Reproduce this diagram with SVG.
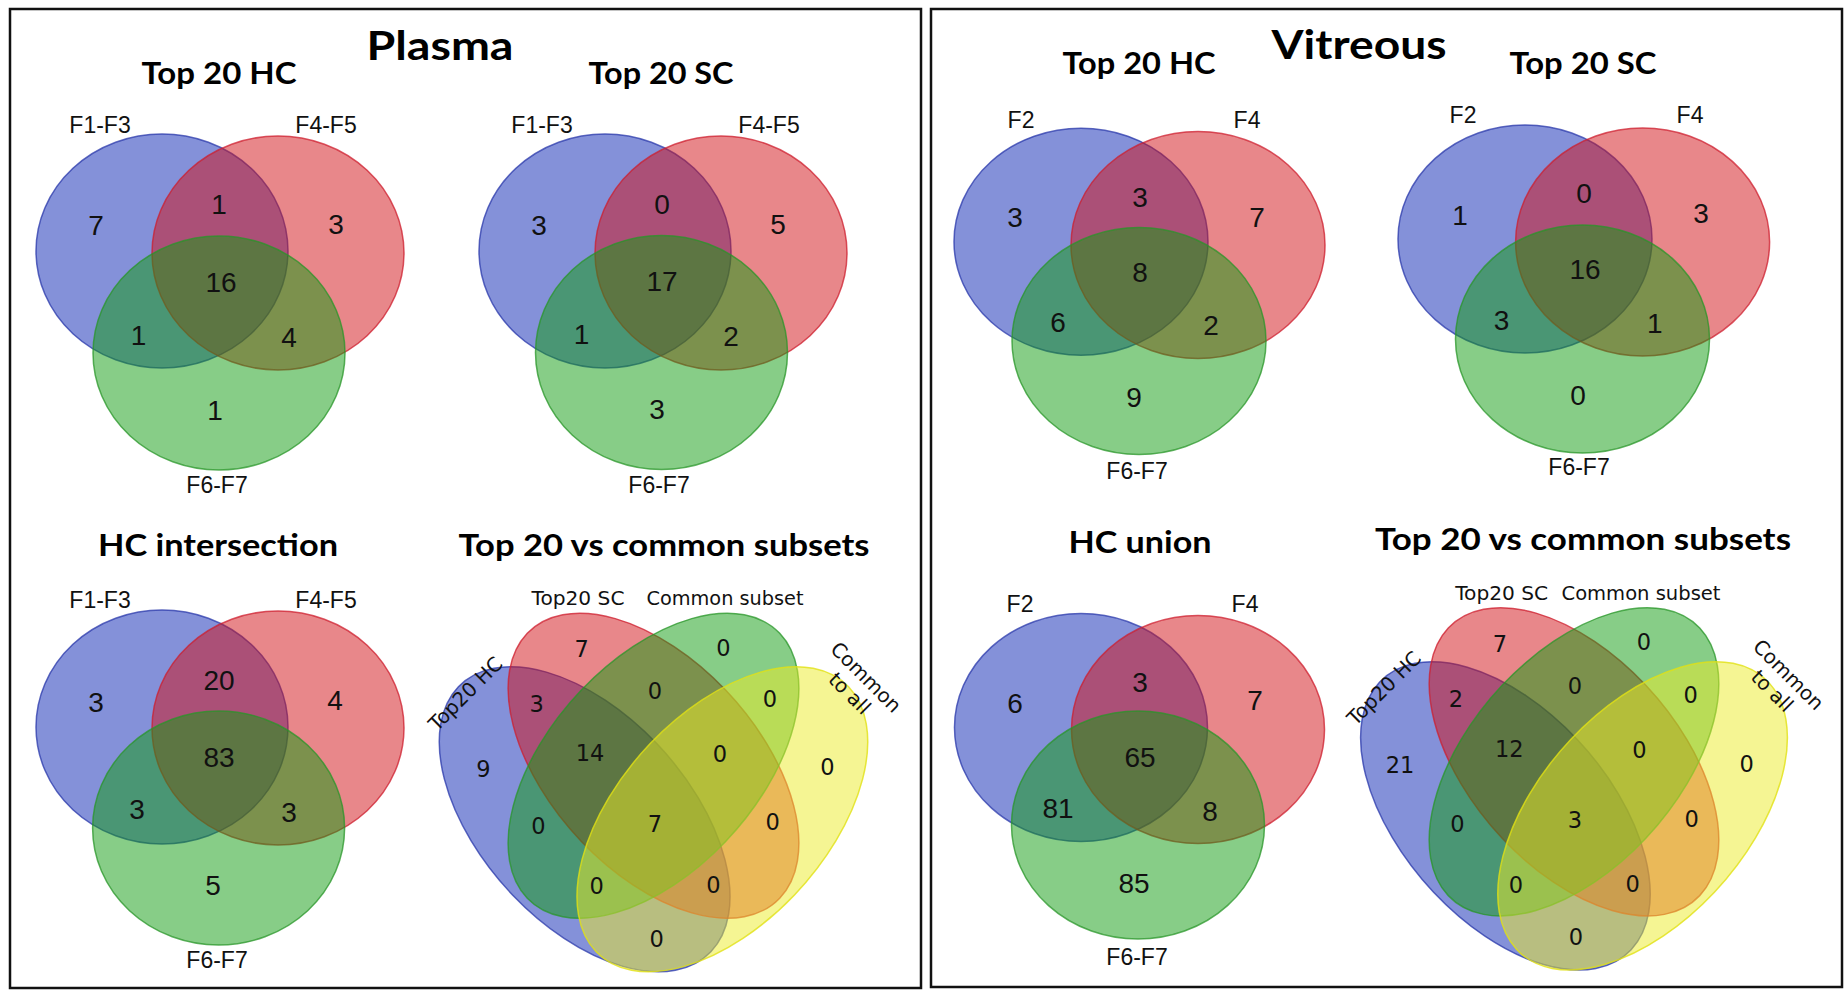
<svg xmlns="http://www.w3.org/2000/svg" width="1848" height="995" viewBox="0 0 1848 995">
<style>
.frame{fill:none;stroke:#111;stroke-width:2.5}
.b{fill:rgb(10,35,180);fill-opacity:.5;stroke:rgb(40,55,170);stroke-opacity:.75;stroke-width:1.5}
.r{fill:rgb(210,15,22);fill-opacity:.5;stroke:rgb(205,30,45);stroke-opacity:.75;stroke-width:1.5}
.g{fill:rgb(15,155,15);fill-opacity:.5;stroke:rgb(40,150,40);stroke-opacity:.75;stroke-width:1.5}
.y{fill:rgb(235,235,40);fill-opacity:.5;stroke:rgb(225,225,20);stroke-opacity:.8;stroke-width:1.5}
.q ellipse{vector-effect:non-scaling-stroke}
.t1{font-family:Lato,"Liberation Sans",sans-serif;font-weight:700;font-size:41px;text-anchor:middle;fill:#000}
.t2{font-family:Lato,"Liberation Sans",sans-serif;font-weight:700;font-size:31px;text-anchor:middle;fill:#000}
.lb{font-family:"Liberation Sans",Arial,sans-serif;font-size:23px;text-anchor:middle;fill:#111}
.n{font-family:"Liberation Sans",Arial,sans-serif;font-size:28px;text-anchor:middle;fill:#111}
.ql{font-family:"DejaVu Sans",Verdana,sans-serif;font-size:20px;text-anchor:middle;fill:#111}
.qn{font-family:"DejaVu Sans",Verdana,sans-serif;font-size:22.5px;text-anchor:middle;fill:#111}
</style>

<g id="plasma-panel">
<rect class="frame" x="10" y="9" width="911" height="979"/>
<text class="t1" x="440" y="60" textLength="147" lengthAdjust="spacingAndGlyphs">Plasma</text>
</g>
<g id="vitreous-panel">
<rect class="frame" x="931" y="9" width="911" height="978"/>
<text class="t1" x="1359" y="59" textLength="175" lengthAdjust="spacingAndGlyphs">Vitreous</text>
</g>

<!-- Plasma Top 20 HC -->
<g id="plasma-top20-hc">
<text class="t2" x="219" y="83.5" textLength="155" lengthAdjust="spacingAndGlyphs">Top 20 HC</text>
<ellipse class="b" cx="162" cy="251" rx="126" ry="117"/>
<ellipse class="r" cx="278" cy="253" rx="126" ry="117"/>
<ellipse class="g" cx="219" cy="353" rx="126" ry="117"/>
<text class="lb" x="100" y="133">F1-F3</text>
<text class="lb" x="326" y="133">F4-F5</text>
<text class="lb" x="217" y="493">F6-F7</text>
<text class="n" x="96" y="235">7</text>
<text class="n" x="219" y="214">1</text>
<text class="n" x="336" y="234">3</text>
<text class="n" x="221" y="292">16</text>
<text class="n" x="138.5" y="345">1</text>
<text class="n" x="289" y="347">4</text>
<text class="n" x="215" y="420">1</text>
</g>

<!-- Plasma Top 20 SC -->
<g id="plasma-top20-sc">
<text class="t2" x="661" y="83.5" textLength="145" lengthAdjust="spacingAndGlyphs">Top 20 SC</text>
<ellipse class="b" cx="605" cy="251" rx="126" ry="117"/>
<ellipse class="r" cx="721" cy="253" rx="126" ry="117"/>
<ellipse class="g" cx="661.5" cy="352.5" rx="126" ry="117"/>
<text class="lb" x="542" y="133">F1-F3</text>
<text class="lb" x="769" y="133">F4-F5</text>
<text class="lb" x="659" y="493">F6-F7</text>
<text class="n" x="539" y="235">3</text>
<text class="n" x="662" y="214">0</text>
<text class="n" x="778" y="234">5</text>
<text class="n" x="662" y="291">17</text>
<text class="n" x="581.6" y="344">1</text>
<text class="n" x="731" y="346">2</text>
<text class="n" x="657" y="419">3</text>
</g>

<!-- Plasma HC intersection -->
<g id="plasma-hc-intersection">
<text class="t2" x="218" y="556" textLength="240" lengthAdjust="spacingAndGlyphs">HC intersection</text>
<ellipse class="b" cx="162" cy="727" rx="126" ry="117"/>
<ellipse class="r" cx="278" cy="728" rx="126" ry="117"/>
<ellipse class="g" cx="218.6" cy="828" rx="126" ry="117"/>
<text class="lb" x="100" y="608">F1-F3</text>
<text class="lb" x="326" y="608">F4-F5</text>
<text class="lb" x="217" y="968">F6-F7</text>
<text class="n" x="96" y="712">3</text>
<text class="n" x="219" y="690">20</text>
<text class="n" x="335" y="710">4</text>
<text class="n" x="219" y="767">83</text>
<text class="n" x="137" y="819">3</text>
<text class="n" x="289" y="822">3</text>
<text class="n" x="213" y="895">5</text>
</g>

<!-- Plasma Top 20 vs common subsets -->
<g id="plasma-top20-vs-common">
<text class="t2" x="664" y="556" textLength="411" lengthAdjust="spacingAndGlyphs">Top 20 vs common subsets</text>
<g class="q" transform="translate(398.5 1070.7) scale(510 -535)">
<ellipse class="b" cx=".365" cy=".47" rx=".35" ry=".2" transform="rotate(-45 .365 .47)"/>
<ellipse class="r" cx=".5" cy=".57" rx=".35" ry=".2" transform="rotate(-45 .5 .57)"/>
<ellipse class="g" cx=".5" cy=".57" rx=".35" ry=".2" transform="rotate(45 .5 .57)"/>
<ellipse class="y" cx=".635" cy=".47" rx=".35" ry=".2" transform="rotate(45 .635 .47)"/>
</g>
<text class="ql" x="578" y="605" textLength="93" lengthAdjust="spacingAndGlyphs">Top20 SC</text>
<text class="ql" x="725" y="605" textLength="157" lengthAdjust="spacingAndGlyphs">Common subset</text>
<text class="ql" transform="translate(470.4 698.6) rotate(-45)">Top20 HC</text>
<g transform="translate(861 682) rotate(45)">
<text class="ql" x="0" y="0">Common</text>
<text class="ql" x="0" y="23">to all</text>
</g>
<text class="qn" x="581.7" y="656.5">7</text>
<text class="qn" x="723.3" y="655.5">0</text>
<text class="qn" x="536.7" y="711.5">3</text>
<text class="qn" x="655" y="699">0</text>
<text class="qn" x="770" y="706.5">0</text>
<text class="qn" x="483.3" y="776.5">9</text>
<text class="qn" x="590" y="761">14</text>
<text class="qn" x="720" y="761.5">0</text>
<text class="qn" x="827.3" y="775">0</text>
<text class="qn" x="538.3" y="834">0</text>
<text class="qn" x="655" y="831.5">7</text>
<text class="qn" x="772.7" y="830">0</text>
<text class="qn" x="596.7" y="894">0</text>
<text class="qn" x="713.3" y="893">0</text>
<text class="qn" x="656.7" y="946.5">0</text>
</g>

<!-- Vitreous Top 20 HC -->
<g id="vitreous-top20-hc">
<text class="t2" x="1139" y="73.5" textLength="153" lengthAdjust="spacingAndGlyphs">Top 20 HC</text>
<ellipse class="b" cx="1081" cy="241.7" rx="127" ry="113.5"/>
<ellipse class="r" cx="1198" cy="245" rx="127" ry="113.5"/>
<ellipse class="g" cx="1139" cy="341" rx="127" ry="113.5"/>
<text class="lb" x="1021" y="128">F2</text>
<text class="lb" x="1247" y="128">F4</text>
<text class="lb" x="1137" y="479">F6-F7</text>
<text class="n" x="1015" y="227">3</text>
<text class="n" x="1140" y="207">3</text>
<text class="n" x="1257" y="227">7</text>
<text class="n" x="1140" y="282">8</text>
<text class="n" x="1058" y="332">6</text>
<text class="n" x="1211" y="335">2</text>
<text class="n" x="1134" y="407">9</text>
</g>

<!-- Vitreous Top 20 SC -->
<g id="vitreous-top20-sc">
<text class="t2" x="1583" y="73.5" textLength="147" lengthAdjust="spacingAndGlyphs">Top 20 SC</text>
<ellipse class="b" cx="1525" cy="239" rx="127" ry="114"/>
<ellipse class="r" cx="1642.6" cy="242" rx="127" ry="114"/>
<ellipse class="g" cx="1582.5" cy="339" rx="127" ry="114"/>
<text class="lb" x="1463" y="123">F2</text>
<text class="lb" x="1690" y="123">F4</text>
<text class="lb" x="1579" y="475">F6-F7</text>
<text class="n" x="1460" y="225">1</text>
<text class="n" x="1584" y="203">0</text>
<text class="n" x="1701" y="223">3</text>
<text class="n" x="1585" y="279">16</text>
<text class="n" x="1501.5" y="330">3</text>
<text class="n" x="1654.7" y="333">1</text>
<text class="n" x="1578" y="405">0</text>
</g>

<!-- Vitreous HC union -->
<g id="vitreous-hc-union">
<text class="t2" x="1140" y="553" textLength="143" lengthAdjust="spacingAndGlyphs">HC union</text>
<ellipse class="b" cx="1081" cy="727.5" rx="126.5" ry="114"/>
<ellipse class="r" cx="1198" cy="729.5" rx="126.5" ry="114"/>
<ellipse class="g" cx="1138" cy="825" rx="126.5" ry="114"/>
<text class="lb" x="1020" y="612">F2</text>
<text class="lb" x="1245" y="612">F4</text>
<text class="lb" x="1137" y="965">F6-F7</text>
<text class="n" x="1015" y="713">6</text>
<text class="n" x="1140" y="692">3</text>
<text class="n" x="1255" y="710">7</text>
<text class="n" x="1140" y="767">65</text>
<text class="n" x="1058" y="818">81</text>
<text class="n" x="1210" y="821">8</text>
<text class="n" x="1134" y="893">85</text>
</g>

<!-- Vitreous Top 20 vs common subsets -->
<g id="vitreous-top20-vs-common">
<text class="t2" x="1583" y="550" textLength="416" lengthAdjust="spacingAndGlyphs">Top 20 vs common subsets</text>
<g class="q" transform="translate(1320 1070) scale(508 -540.7)">
<ellipse class="b" cx=".365" cy=".47" rx=".35" ry=".2" transform="rotate(-45 .365 .47)"/>
<ellipse class="r" cx=".5" cy=".57" rx=".35" ry=".2" transform="rotate(-45 .5 .57)"/>
<ellipse class="g" cx=".5" cy=".57" rx=".35" ry=".2" transform="rotate(45 .5 .57)"/>
<ellipse class="y" cx=".635" cy=".47" rx=".35" ry=".2" transform="rotate(45 .635 .47)"/>
</g>
<text class="ql" x="1501.7" y="600" textLength="93" lengthAdjust="spacingAndGlyphs">Top20 SC</text>
<text class="ql" x="1641" y="600" textLength="159" lengthAdjust="spacingAndGlyphs">Common subset</text>
<text class="ql" transform="translate(1389 693) rotate(-45)">Top20 HC</text>
<g transform="translate(1783.5 679.5) rotate(45)">
<text class="ql" x="0" y="0">Common</text>
<text class="ql" x="0" y="23">to all</text>
</g>
<text class="qn" x="1500" y="651.5">7</text>
<text class="qn" x="1644" y="650">0</text>
<text class="qn" x="1456" y="706.5">2</text>
<text class="qn" x="1575" y="694">0</text>
<text class="qn" x="1690.7" y="702.5">0</text>
<text class="qn" x="1400" y="772.5">21</text>
<text class="qn" x="1509.3" y="756.5">12</text>
<text class="qn" x="1639.3" y="758">0</text>
<text class="qn" x="1746.7" y="771.5">0</text>
<text class="qn" x="1457.3" y="831.5">0</text>
<text class="qn" x="1575" y="828">3</text>
<text class="qn" x="1691.7" y="827">0</text>
<text class="qn" x="1516" y="892.5">0</text>
<text class="qn" x="1632.7" y="891.5">0</text>
<text class="qn" x="1576" y="945">0</text>
</g>
</svg>
